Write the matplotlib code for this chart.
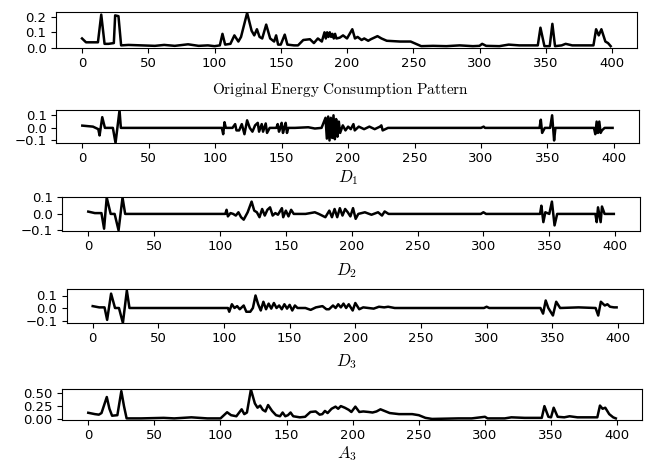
import numpy as np
import matplotlib.pyplot as plt

plt.rcParams['mathtext.fontset'] = 'cm'

# original energy consumption pattern (x = sample index)
orig_x = [0, 3, 8, 12, 14.5, 17, 20, 24, 25, 27.5, 29.5, 35, 45, 55, 62, 70, 80, 88, 95, 100, 104,
          106, 108, 112, 115, 118, 120, 124.6, 128, 130, 132, 134, 136, 139, 142, 145, 146.5, 148,
          150, 153, 155, 160, 163, 167, 172, 175, 178, 181, 183, 184, 185, 186, 187, 188, 189, 190,
          191, 192, 194.5, 197, 200, 204, 206, 208, 211, 213, 216, 218, 223, 226, 230, 240, 248,
          252, 256, 265, 275, 285, 295, 300, 302, 305, 315, 322, 330, 340, 344, 346, 349, 353,
          355, 357, 362, 365, 370, 380, 386, 388, 390, 392, 395, 397, 399]
orig_y = [0.06, 0.035, 0.035, 0.035, 0.215, 0.025, 0.025, 0.03, 0.21, 0.205, 0.015, 0.018, 0.015,
          0.012, 0.018, 0.012, 0.022, 0.012, 0.015, 0.01, 0.015, 0.09, 0.02, 0.025, 0.08, 0.04,
          0.07, 0.226, 0.11, 0.08, 0.12, 0.07, 0.06, 0.15, 0.06, 0.04, 0.08, 0.02, 0.02, 0.085,
          0.02, 0.015, 0.015, 0.05, 0.055, 0.03, 0.06, 0.04, 0.1, 0.06, 0.1, 0.07, 0.1, 0.07, 0.09,
          0.06, 0.09, 0.06, 0.065, 0.08, 0.06, 0.12, 0.06, 0.07, 0.05, 0.06, 0.045, 0.055, 0.075,
          0.06, 0.045, 0.04, 0.04, 0.025, 0.01, 0.012, 0.01, 0.015, 0.01, 0.012, 0.025, 0.012, 0.01,
          0.02, 0.015, 0.015, 0.015, 0.13, 0.01, 0.01, 0.155, 0.01, 0.015, 0.025, 0.015, 0.015,
          0.015, 0.12, 0.08, 0.12, 0.04, 0.03, 0.01]

# detail D1
d1_x = [0, 8, 12, 13, 15, 17, 23, 25, 28, 29, 50, 80, 105, 106, 107, 108, 113, 115, 116, 118,
        120, 122, 124, 126, 128, 130, 132, 133, 135, 136, 138, 139, 141, 146, 147, 148, 149, 150,
        151, 152, 153, 154, 155, 160, 170, 175, 180, 183, 184, 185, 186, 187, 188, 189, 190, 191,
        192, 193, 194, 196, 198, 200, 202, 204, 205, 208, 212, 216, 220, 224, 225, 226, 230, 260,
        300, 302, 303, 330, 344, 345, 346, 348, 352, 353.5, 355, 356, 360, 385, 386, 387, 388,
        389, 390, 391, 393, 399]
d1_y = [0.018, 0.01, -0.01, -0.06, 0.085, 0.0, 0.0, -0.12, 0.14, 0.0, 0.0, 0.0, 0.0, -0.05, 0.045,
        0.0, 0.0, 0.03, -0.02, -0.02, 0.03, -0.05, 0.06, 0.0, -0.03, 0.02, 0.04, -0.03, 0.03,
        -0.03, 0.035, -0.04, 0.0, 0.0, 0.03, -0.03, 0.0, 0.04, -0.04, 0.0, 0.04, -0.04, 0.0, 0.0,
        0.005, -0.005, 0.0, 0.08, -0.085, 0.09, -0.1, 0.08, -0.08, 0.1, -0.09, 0.07, -0.07, 0.05,
        -0.04, 0.02, -0.02, 0.01, -0.01, 0.03, -0.02, 0.01, -0.01, 0.01, -0.01, 0.01, 0.02, -0.02,
        0.0, 0.0, 0.0, 0.01, 0.0, 0.0, 0.0, 0.065, -0.04, 0.0, 0.0, 0.1, -0.1, 0.0, 0.0, 0.0,
        -0.05, 0.05, -0.04, 0.05, -0.04, -0.02, 0.0, 0.0]

# detail D2
d2_x = [0, 5, 10, 12, 14, 17, 20, 23, 26, 28, 50, 80, 104, 105, 106, 108, 110, 112, 114, 116,
        118, 121, 124, 126, 128, 130, 132, 134, 136, 138, 140, 142, 144, 147, 148, 150, 152, 154,
        156, 165, 172, 175, 180, 183, 185, 187, 189, 191, 193, 195, 197, 199, 201, 203, 205, 210,
        215, 220, 223, 225, 228, 260, 298, 300, 302, 330, 343, 344, 345.5, 347, 350, 352, 354,
        356, 370, 385, 386, 387, 389, 390, 392, 399]
d2_y = [0.014, 0.005, 0.005, -0.09, 0.1, 0.0, 0.0, -0.1, 0.1, 0.0, 0.0, 0.0, 0.0, 0.025, -0.015,
        0.005, 0.0, -0.01, 0.01, -0.02, -0.035, 0.01, 0.075, 0.02, 0.01, -0.02, 0.03, -0.01,
        0.025, 0.04, -0.01, 0.005, -0.005, 0.035, -0.02, 0.02, -0.015, 0.025, 0.0, 0.0, 0.01, 0.0,
        -0.02, 0.02, -0.02, 0.03, -0.02, 0.035, -0.01, 0.03, 0.01, -0.015, 0.035, -0.03, 0.0,
        0.01, -0.005, 0.01, -0.01, 0.015, 0.0, 0.0, 0.0, 0.01, 0.0, 0.0, 0.0, 0.05, -0.05, 0.01,
        0.0, 0.075, -0.07, 0.0, 0.0, 0.0, -0.05, 0.04, -0.05, 0.045, 0.0, 0.0]

# detail D3
d3_x = [0, 5, 9, 11, 14, 17, 20, 23, 26, 28, 50, 80, 103, 104, 106, 108, 110, 112, 115, 117, 120,
        122, 124, 126, 128, 130, 132, 134, 136, 138, 140, 142, 144, 146, 148, 150, 152, 154, 156,
        162, 166, 170, 175, 178, 180, 183, 185, 187, 189, 191, 193, 195, 198, 200, 203, 206, 210,
        214, 218, 222, 225, 230, 260, 298, 300, 302, 330, 341, 343, 345, 347, 350.5, 353, 356,
        370, 383, 385, 387, 390, 392, 394, 397, 399]
d3_y = [0.015, 0.005, 0.005, -0.095, 0.115, 0.0, 0.0, -0.12, 0.14, 0.0, 0.0, 0.0, 0.0, -0.03,
        0.03, 0.0, 0.015, -0.01, 0.02, -0.03, -0.03, 0.0, 0.1, 0.03, -0.02, 0.05, -0.01, 0.035,
        -0.005, 0.04, 0.0, 0.02, -0.01, 0.03, -0.005, 0.025, -0.02, 0.02, 0.0, 0.0, -0.015,
        0.005, 0.015, -0.01, -0.01, 0.02, 0.0, 0.03, 0.005, 0.035, 0.0, 0.03, -0.02, 0.04, -0.01,
        0.005, 0.0, -0.005, 0.01, 0.005, 0.01, 0.0, 0.0, 0.0, 0.01, 0.0, 0.0, 0.0, -0.045, 0.06,
        0.0, -0.06, 0.05, 0.0, 0.005, 0.0, -0.06, 0.05, 0.02, 0.03, 0.01, 0.005, 0.005]

# approximation A3
a3_x = [0, 5, 8, 10, 14, 16, 18, 22, 25, 27, 29, 40, 57, 65, 78, 90, 100, 105, 108, 112, 116,
        118, 120, 123, 126, 128, 130, 132, 134, 136, 139, 142, 145, 147, 149, 151, 153, 155, 160,
        164, 168, 172, 175, 177, 179, 181, 184, 187, 189, 191, 194, 197, 199, 202, 205, 208, 212,
        215, 218, 221, 224, 228, 235, 245, 250, 255, 260, 280, 290, 300, 302, 315, 320, 330, 343,
        345, 348, 350, 352, 355, 360, 364, 370, 385, 387, 389, 391, 394, 397, 399]
a3_y = [0.125, 0.1, 0.09, 0.12, 0.42, 0.2, 0.07, 0.08, 0.53, 0.25, 0.02, 0.02, 0.03, 0.02, 0.04,
        0.02, 0.02, 0.135, 0.08, 0.06, 0.19, 0.1, 0.13, 0.56, 0.3, 0.22, 0.26, 0.18, 0.15, 0.27,
        0.16, 0.08, 0.06, 0.13, 0.06, 0.08, 0.13, 0.06, 0.04, 0.05, 0.14, 0.15, 0.09, 0.1, 0.16,
        0.12, 0.2, 0.24, 0.2, 0.25, 0.22, 0.18, 0.14, 0.24, 0.14, 0.15, 0.14, 0.13, 0.15, 0.19,
        0.16, 0.12, 0.1, 0.1, 0.08, 0.03, 0.01, 0.02, 0.02, 0.05, 0.02, 0.02, 0.04, 0.03, 0.03,
        0.25, 0.05, 0.04, 0.22, 0.05, 0.04, 0.06, 0.04, 0.04, 0.26, 0.2, 0.22, 0.1, 0.04, 0.02]

labels = [r'$\mathrm{Original\ Energy\ Consumption\ Pattern}$', r'$D_1$', r'$D_2$', r'$D_3$', r'$A_3$']
series = [(orig_x, orig_y), (d1_x, d1_y), (d2_x, d2_y), (d3_x, d3_y), (a3_x, a3_y)]

W, H = 650, 462
# panel boxes in pixels: left, top, right, bottom
boxes = [(55.6, 12, 637.1, 48), (55.8, 110, 639.1, 143), (62.0, 197, 640.1, 231),
         (66.5, 289, 642.8, 323), (61.9, 389, 642.2, 420)]
ylims = [(-0.002, 0.232), (-0.12, 0.142), (-0.104, 0.103), (-0.12, 0.152), (-0.01, 0.57)]
yticks = [[0.0, 0.1, 0.2], [-0.1, 0.0, 0.1], [-0.1, 0.0, 0.1], [-0.1, 0.0, 0.1], [0.0, 0.25, 0.5]]
label_pos = [(340, 90), (348, 178), (347, 271), (347, 362), (347, 454)]
label_size = [11, 12, 12, 12, 12]

fig = plt.figure(figsize=(W / 100, H / 100), dpi=100)
for i in range(5):
    l, t, r, b = boxes[i]
    ax = fig.add_axes([l / W, 1 - b / H, (r - l) / W, (b - t) / H])
    ax.plot(series[i][0], series[i][1], color='black', lw=1.8)
    ax.set_xlim(-19.95, 418.95)
    ax.set_ylim(ylims[i])
    ax.set_xticks([0, 50, 100, 150, 200, 250, 300, 350, 400])
    ax.set_yticks(yticks[i])
    if i == 4:
        ax.set_yticklabels(['0.00', '0.25', '0.50'])
    ax.tick_params(labelsize=9.5, pad=3)
    fig.text(label_pos[i][0] / W, 1 - label_pos[i][1] / H, labels[i],
             ha='center', va='center', fontsize=label_size[i])

fig.savefig('out.png', dpi=100)
